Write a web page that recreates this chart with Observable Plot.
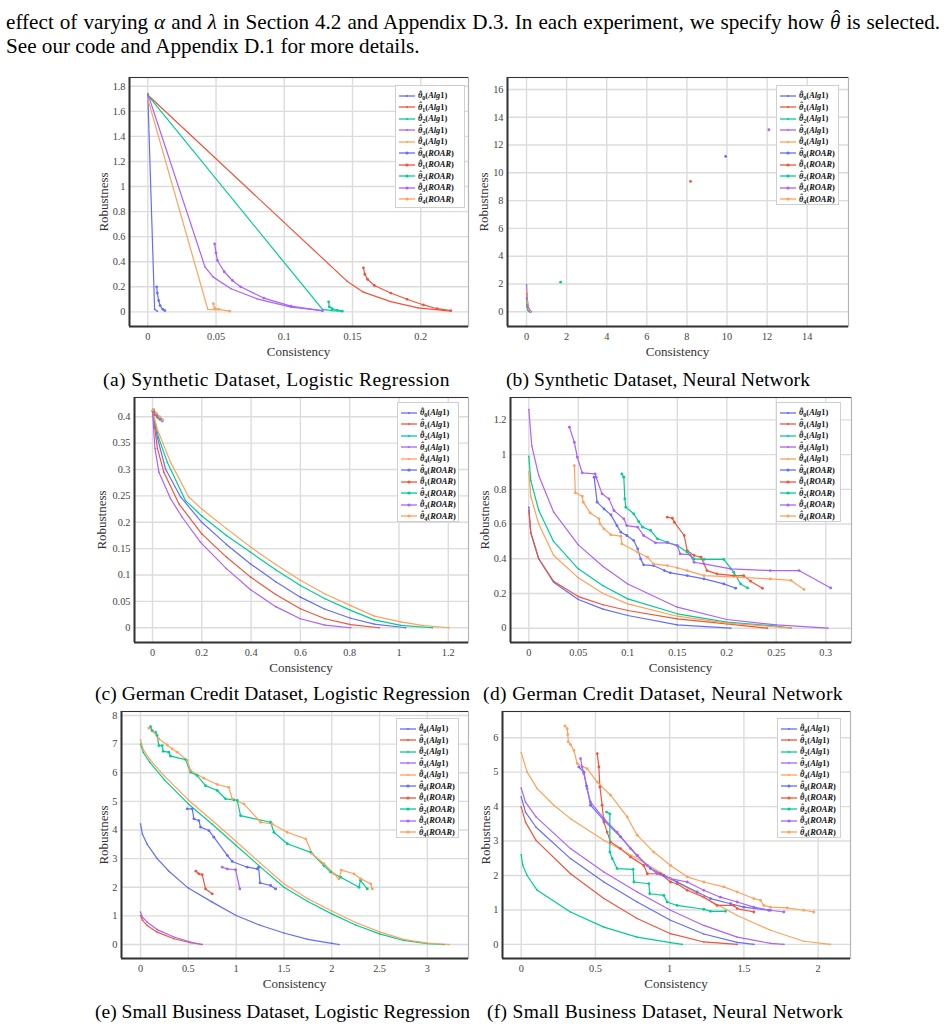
<!DOCTYPE html>
<html><head><meta charset="utf-8">
<script src="https://cdn.jsdelivr.net/npm/d3@7"></script>
<script src="https://cdn.jsdelivr.net/npm/@observablehq/plot@0.6"></script>
<style>
html,body{margin:0;padding:0;background:#fff;}
body{width:950px;height:1029px;position:relative;overflow:hidden;font-family:"Liberation Serif","Times New Roman",serif;color:#000;}
.abs{position:absolute;white-space:nowrap;line-height:1;}
.ttl{font-size:13px;color:#333;}
.legend{position:absolute;background:rgba(255,255,255,0.92);border:1px solid #cfcfcf;box-sizing:border-box;padding:4px 2px 0 3px;}
.lrow{height:11.5px;display:flex;align-items:center;font:bold 8.4px "Liberation Serif",serif;color:#111;white-space:nowrap;}
.lrow svg{margin-right:3px;flex:none;}
.lrow sub{font-size:6px;vertical-align:-2px;line-height:0;}
.hat{position:relative;display:inline-block;font-style:italic;}
.hat::after{content:"ˆ";position:absolute;left:0.14em;top:-0.2em;font-style:normal;}
</style></head><body>
<script>
// ---------------- data ----------------
const thetaIdx = [0, 1, 2, 3, 4];
const methods = ["Alg1", "ROAR"];
const palette = ["#636EFA", "#EF553B", "#00CC96", "#AB63FA", "#FFA15A"];

// (a) Synthetic Dataset, Logistic Regression
const aXTicks = [0, 0.05, 0.1, 0.15, 0.2];
const aYTicks = [0, 0.2, 0.4, 0.6, 0.8, 1, 1.2, 1.4, 1.6, 1.8];
const aAlg1 = [
  [[0,1.74],[0.005,0.02],[0.007,0.005]],
  [[0,1.73],[0.146,0.245],[0.158,0.157],[0.178,0.082],[0.198,0.032],[0.222,0.005]],
  [[0,1.73],[0.128,0.019],[0.135,0.01],[0.142,0.005]],
  [[0,1.74],[0.042,0.356],[0.048,0.277],[0.061,0.184],[0.080,0.104],[0.105,0.037],[0.127,0.011]],
  [[0,1.70],[0.044,0.019],[0.05,0.015]]
];
const aRoar = [
  [[0.0065,0.2],[0.007,0.15],[0.008,0.09],[0.009,0.05],[0.011,0.02],[0.0125,0.01]],
  [[0.158,0.351],[0.159,0.30],[0.161,0.26],[0.166,0.21],[0.178,0.15],[0.190,0.1],[0.202,0.055],[0.212,0.025],[0.222,0.01]],
  [[0.1325,0.08],[0.133,0.04],[0.135,0.025],[0.139,0.012],[0.1425,0.005]],
  [[0.049,0.543],[0.050,0.47],[0.051,0.41],[0.056,0.32],[0.062,0.25],[0.068,0.2],[0.085,0.11],[0.105,0.045],[0.128,0.008]],
  [[0.048,0.065],[0.049,0.03],[0.052,0.02],[0.06,0.005]]
];

// (b) Synthetic Dataset, Neural Network
const bXTicks = [0, 2, 4, 6, 8, 10, 12, 14];
const bYTicks = [0, 2, 4, 6, 8, 10, 12, 14, 16];
const bAlg1 = [
  [[0,1.0],[0.03,0.4],[0.08,0.1],[0.15,0.0]],
  [[0,1.3],[0.03,0.5],[0.1,0.1],[0.18,0.0]],
  [[0,0.9],[0.03,0.3],[0.1,0.05],[0.15,0.0]],
  [[0,1.95],[0.04,0.9],[0.1,0.3],[0.2,0.05],[0.25,0.0]],
  [[0,1.45],[0.04,0.6],[0.1,0.15],[0.2,0.0]]
];
const bRoar = [
  [[9.93,11.18]],
  [[8.18,9.38]],
  [[1.70,2.13]],
  [[12.09,13.1]],
  [[15.08,15.73]]
];

// (c) German Credit Dataset, Logistic Regression
const cXTicks = [0, 0.2, 0.4, 0.6, 0.8, 1, 1.2];
const cYTicks = [0, 0.05, 0.1, 0.15, 0.2, 0.25, 0.3, 0.35, 0.4];
const cAlg1 = [
  [[0,0.41],[0.02,0.36],[0.053,0.301],[0.114,0.248],[0.2,0.2],[0.3,0.158],[0.398,0.121],[0.5,0.087],[0.6,0.058],[0.7,0.035],[0.804,0.018],[0.9,0.007],[1.027,0]],
  [[0,0.41],[0.02,0.34],[0.046,0.295],[0.107,0.235],[0.2,0.178],[0.3,0.134],[0.398,0.096],[0.5,0.063],[0.6,0.036],[0.7,0.017],[0.804,0.006],[0.919,0]],
  [[0,0.41],[0.025,0.36],[0.06,0.314],[0.134,0.241],[0.2,0.212],[0.3,0.175],[0.398,0.143],[0.5,0.11],[0.6,0.08],[0.7,0.055],[0.804,0.033],[0.9,0.015],[1.007,0.0044],[1.135,0]],
  [[0,0.41],[0.01,0.34],[0.026,0.295],[0.073,0.245],[0.12,0.21],[0.195,0.162],[0.3,0.112],[0.398,0.072],[0.5,0.04],[0.6,0.017],[0.7,0.005],[0.804,0]],
  [[0,0.412],[0.019,0.377],[0.073,0.314],[0.147,0.248],[0.2,0.225],[0.3,0.188],[0.398,0.153],[0.5,0.12],[0.6,0.09],[0.7,0.064],[0.804,0.042],[0.9,0.022],[1.007,0.011],[1.1,0.004],[1.203,0]]
];
const cRoar = [
  [[0.003,0.412],[0.01,0.405],[0.02,0.4],[0.03,0.395]],
  [[0.003,0.41],[0.01,0.404],[0.02,0.399]],
  [[0.003,0.413],[0.012,0.406],[0.025,0.399],[0.035,0.395]],
  [[0.003,0.413],[0.015,0.405],[0.03,0.397],[0.04,0.392]],
  [[0.003,0.414],[0.015,0.407],[0.03,0.4],[0.042,0.394]]
];

// (d) German Credit Dataset, Neural Network
const dXTicks = [0, 0.05, 0.1, 0.15, 0.2, 0.25, 0.3];
const dYTicks = [0, 0.2, 0.4, 0.6, 0.8, 1, 1.2];
const dAlg1 = [
  [[0,0.697],[0.002,0.55],[0.01,0.4],[0.025,0.265],[0.05,0.165],[0.075,0.11],[0.1,0.073],[0.15,0.019],[0.204,0]],
  [[0,0.678],[0.002,0.55],[0.01,0.4],[0.025,0.27],[0.05,0.182],[0.075,0.135],[0.1,0.102],[0.15,0.054],[0.2,0.025],[0.241,0]],
  [[0,0.99],[0.002,0.85],[0.01,0.68],[0.025,0.5],[0.05,0.342],[0.075,0.245],[0.1,0.169],[0.15,0.083],[0.2,0.035],[0.25,0.012],[0.265,0]],
  [[0,1.26],[0.003,1.05],[0.01,0.88],[0.025,0.67],[0.05,0.48],[0.075,0.355],[0.1,0.255],[0.15,0.121],[0.2,0.05],[0.25,0.019],[0.302,0]],
  [[0,0.9],[0.002,0.76],[0.01,0.6],[0.025,0.42],[0.05,0.29],[0.075,0.2],[0.1,0.14],[0.15,0.069],[0.2,0.029],[0.25,0.008],[0.265,0]]
];
const dRoar = [
  [[0.066,0.87],[0.069,0.726],[0.076,0.687],[0.083,0.653],[0.089,0.591],[0.093,0.553],[0.099,0.534],[0.106,0.505],[0.11,0.457],[0.113,0.399],[0.116,0.365],[0.126,0.361],[0.137,0.332],[0.143,0.319],[0.16,0.303],[0.177,0.284],[0.197,0.255],[0.209,0.23]],
  [[0.14,0.639],[0.145,0.634],[0.147,0.611],[0.157,0.534],[0.16,0.447],[0.167,0.419],[0.174,0.409],[0.18,0.332],[0.19,0.313],[0.207,0.303],[0.217,0.303],[0.224,0.271],[0.236,0.23]],
  [[0.094,0.889],[0.096,0.87],[0.097,0.745],[0.098,0.697],[0.106,0.659],[0.111,0.614],[0.115,0.582],[0.123,0.563],[0.13,0.515],[0.14,0.495],[0.15,0.476],[0.16,0.438],[0.167,0.399],[0.177,0.396],[0.197,0.396],[0.207,0.323],[0.214,0.255],[0.221,0.232]],
  [[0.041,1.158],[0.046,1.071],[0.049,0.985],[0.054,0.895],[0.067,0.889],[0.068,0.87],[0.074,0.774],[0.081,0.745],[0.086,0.678],[0.096,0.63],[0.099,0.591],[0.11,0.582],[0.116,0.534],[0.128,0.492],[0.14,0.492],[0.15,0.476],[0.153,0.428],[0.163,0.422],[0.167,0.38],[0.177,0.371],[0.204,0.342],[0.244,0.332],[0.273,0.332],[0.305,0.232]],
  [[0.046,0.937],[0.047,0.78],[0.054,0.76],[0.055,0.726],[0.062,0.664],[0.071,0.63],[0.072,0.601],[0.076,0.572],[0.083,0.538],[0.093,0.53],[0.094,0.486],[0.11,0.438],[0.12,0.409],[0.126,0.371],[0.14,0.361],[0.15,0.348],[0.16,0.332],[0.177,0.303],[0.211,0.294],[0.244,0.284],[0.265,0.275],[0.278,0.223]]
];

// (e) Small Business Dataset, Logistic Regression
const eXTicks = [0, 0.5, 1, 1.5, 2, 2.5, 3];
const eYTicks = [0, 1, 2, 3, 4, 5, 6, 7, 8];
const eAlg1 = [
  [[0,4.21],[0.02,3.85],[0.07,3.5],[0.174,3.0],[0.3,2.55],[0.5,1.97],[0.75,1.48],[1.0,1.01],[1.25,0.67],[1.5,0.4],[1.75,0.18],[2.0,0.04],[2.075,0]],
  [[0,1.01],[0.02,0.85],[0.07,0.66],[0.174,0.43],[0.349,0.2],[0.523,0.06],[0.645,0]],
  [[0,7.0],[0.03,6.7],[0.1,6.35],[0.25,5.75],[0.5,4.91],[0.75,4.2],[1.0,3.46],[1.25,2.72],[1.5,2.0],[1.75,1.5],[2.0,1.07],[2.25,0.68],[2.5,0.37],[2.75,0.14],[3.0,0.03],[3.17,0]],
  [[0,1.13],[0.02,0.95],[0.07,0.78],[0.174,0.52],[0.349,0.26],[0.523,0.08],[0.645,0]],
  [[0,7.15],[0.03,6.8],[0.1,6.45],[0.25,5.88],[0.5,5.05],[0.75,4.33],[1.0,3.6],[1.25,2.85],[1.5,2.12],[1.75,1.6],[2.0,1.17],[2.25,0.77],[2.5,0.44],[2.75,0.18],[3.0,0.05],[3.226,0]]
];
const eRoar = [
  [[0.488,4.74],[0.541,4.74],[0.558,4.39],[0.61,4.33],[0.628,4.1],[0.715,3.98],[0.767,3.75],[0.907,3.11],[0.959,2.9],[1.116,2.7],[1.221,2.64],[1.235,2.7],[1.25,2.15],[1.36,2.06],[1.413,1.94]],
  [[0.579,2.56],[0.61,2.47],[0.645,2.44],[0.68,1.94],[0.75,1.77]],
  [[0.105,7.61],[0.122,7.47],[0.157,7.42],[0.174,7.3],[0.192,6.95],[0.227,6.95],[0.237,6.75],[0.296,6.72],[0.314,6.58],[0.471,6.46],[0.523,6.02],[0.593,5.9],[0.68,5.55],[0.802,5.38],[0.889,5.09],[0.977,5.05],[1.012,5.03],[1.046,4.5],[1.36,4.27],[1.395,3.92],[1.535,3.52],[1.779,3.22],[1.918,2.76],[1.988,2.53],[2.093,2.35],[2.285,2.0],[2.3,2.24],[2.372,1.94]],
  [[0.855,2.7],[0.907,2.64],[0.994,2.61],[1.039,1.94]],
  [[0.087,7.56],[0.14,7.42],[0.192,7.18],[0.279,6.97],[0.331,6.83],[0.384,6.72],[0.488,6.43],[0.523,6.08],[0.663,5.81],[0.802,5.59],[0.924,5.49],[0.959,5.09],[1.081,4.91],[1.256,4.27],[1.378,4.21],[1.535,3.92],[1.727,3.69],[1.796,3.17],[1.918,2.82],[2.023,2.47],[2.075,2.29],[2.1,2.6],[2.232,2.47],[2.3,2.3],[2.407,2.12],[2.424,1.94]]
];

// (f) Small Business Dataset, Neural Network
const fXTicks = [0, 0.5, 1, 1.5, 2];
const fYTicks = [0, 1, 2, 3, 4, 5, 6];
const fAlg1 = [
  [[0,4.28],[0.029,3.84],[0.1,3.4],[0.332,2.49],[0.557,1.81],[0.781,1.23],[1.006,0.7],[1.23,0.3],[1.455,0.06],[1.567,0]],
  [[0,3.99],[0.029,3.55],[0.1,3.02],[0.332,2.05],[0.557,1.33],[0.781,0.75],[1.006,0.31],[1.23,0.07],[1.455,0]],
  [[0,2.6],[0.01,2.3],[0.04,2.0],[0.108,1.57],[0.332,0.94],[0.557,0.5],[0.781,0.21],[1.006,0.05],[1.084,0]],
  [[0,4.54],[0.029,4.13],[0.1,3.7],[0.332,2.78],[0.557,2.1],[0.781,1.52],[1.006,0.99],[1.23,0.55],[1.455,0.21],[1.679,0.03],[1.769,0]],
  [[0,5.57],[0.04,5.0],[0.108,4.52],[0.22,4.04],[0.332,3.65],[0.557,3.02],[0.781,2.49],[1.006,1.91],[1.23,1.37],[1.455,0.84],[1.679,0.41],[1.903,0.09],[2.083,0]]
];
const fRoar = [
  [[0.388,5.15],[0.422,5.0],[0.44,4.6],[0.467,4.04],[0.557,3.6],[0.669,3.12],[0.781,2.58],[0.871,2.2],[0.961,2.0],[1.05,1.81],[1.185,1.52],[1.275,1.33],[1.41,1.18],[1.5,1.08],[1.668,0.99]],
  [[0.512,5.54],[0.523,5.15],[0.53,4.57],[0.545,4.04],[0.557,3.55],[0.579,3.26],[0.602,2.97],[0.669,2.78],[0.736,2.54],[0.826,2.29],[0.849,2.05],[0.938,2.05],[1.006,1.81],[1.05,1.76],[1.118,1.57],[1.23,1.37],[1.32,1.13],[1.432,1.13],[1.455,1.04],[1.567,0.94]],
  [[0.575,3.84],[0.597,3.79],[0.597,2.68],[0.613,2.49],[0.646,2.2],[0.754,2.18],[0.759,1.81],[0.86,1.76],[0.866,1.47],[0.961,1.42],[0.983,1.23],[1.05,1.13],[1.23,1.02],[1.275,0.96],[1.376,0.96]],
  [[0.4,5.39],[0.41,5.15],[0.422,4.96],[0.444,4.52],[0.467,4.13],[0.557,3.65],[0.646,3.26],[0.736,2.78],[0.781,2.58],[0.849,2.29],[0.916,2.05],[1.006,1.91],[1.118,1.81],[1.23,1.57],[1.342,1.37],[1.455,1.23],[1.567,1.08],[1.679,0.99],[1.769,0.94]],
  [[0.294,6.34],[0.31,6.26],[0.314,6.09],[0.317,5.88],[0.332,5.8],[0.355,5.63],[0.377,5.25],[0.444,5.1],[0.512,4.71],[0.602,4.33],[0.714,3.7],[0.781,3.17],[0.893,2.68],[1.006,2.29],[1.118,1.96],[1.23,1.81],[1.365,1.67],[1.455,1.52],[1.567,1.33],[1.612,1.28],[1.634,1.13],[1.679,1.08],[1.791,1.06],[1.903,0.99],[1.971,0.94]]
];

const captions = [
  "(a) Synthetic Dataset, Logistic Regression",
  "(b) Synthetic Dataset, Neural Network",
  "(c) German Credit Dataset, Logistic Regression",
  "(d) German Credit Dataset, Neural Network",
  "(e) Small Business Dataset, Logistic Regression",
  "(f) Small Business Dataset, Neural Network"
];
const xTitle = "Consistency";
const yTitle = "Robustness";

// ---------------- layout (positions / domains) ----------------
const panels = [
  {alg:aAlg1, roar:aRoar, xt:aXTicks, yt:aYTicks, xd:[-0.0134,0.235], yd:[-0.117,1.87], f:[129,77,468,326], ylabX:103, cap:[276.5,380,347], leg:{w:70,h:123,r:3,t:8}},
  {alg:bAlg1, roar:bRoar, xt:bXTicks, yt:bYTicks, xd:[-0.95,16.06], yd:[-1.06,16.86], f:[507,77,848,326], ylabX:483, cap:[658,380,304], leg:{w:63,h:120,r:9,t:8}},
  {alg:cAlg1, roar:cRoar, xt:cXTicks, yt:cYTicks, xd:[-0.073,1.282], yd:[-0.028,0.4366], f:[134,397,468,642], ylabX:101, cap:[282.5,694,375], leg:{w:62,h:120,r:9,t:5}},
  {alg:dAlg1, roar:dRoar, xt:dXTicks, yt:dYTicks, xd:[-0.0185,0.326], yd:[-0.0824,1.329], f:[510,397,851,642], ylabX:484, cap:[663,694,360], leg:{w:65,h:120,r:10,t:5}},
  {alg:eAlg1, roar:eRoar, xt:eXTicks, yt:eYTicks, xd:[-0.199,3.43], yd:[-0.49,8.14], f:[121,711,468,958], ylabX:103, cap:[282.5,1012,375], leg:{w:63,h:120,r:9,t:7}},
  {alg:fAlg1, roar:fRoar, xt:fXTicks, yt:fYTicks, xd:[-0.126,2.218], yd:[-0.41,6.76], f:[502,711,850,958], ylabX:485, cap:[665,1012,356], leg:{w:64,h:120,r:9,t:7}}
];

const body = document.body;
function addDiv(cls, html, style) {
  const d = document.createElement("div");
  d.className = cls;
  d.innerHTML = html;
  Object.assign(d.style, style);
  body.appendChild(d);
  return d;
}
const thetaHat = '<span class="hat">θ</span>';

// ---------------- top paragraph ----------------
const line1 = addDiv("abs", `effect of varying <i>α</i> and <i>λ</i> in Section 4.2 and Appendix D.3. In each experiment, we specify how ${thetaHat} is selected.`, {left:"6px", top:"12px", fontSize:"18px"});
const line2 = addDiv("abs", 'See our code and Appendix D.1 for more details.', {left:"6px", top:"36px", fontSize:"18px"});
{
  const w2 = line2.getBoundingClientRect().width;
  const fs = 18 * 414 / w2;
  line1.style.fontSize = fs + "px";
  line2.style.fontSize = fs + "px";
  const w1 = line1.getBoundingClientRect().width;
  const nSpaces = line1.textContent.split(" ").length - 1;
  line1.style.wordSpacing = ((934 - w1) / nSpaces) + "px";
}

// ---------------- panels ----------------
function legendLabel(k, m) {
  const meth = m === "Alg1" ? "<i>Alg</i>1" : "<i>ROAR</i>";
  return `${thetaHat}<sub>${k}</sub>(${meth})`;
}

const capEls = [];
panels.forEach((p, pi) => {
  const rows = [];
  methods.forEach((m, mi) => {
    const set = mi === 0 ? p.alg : p.roar;
    set.forEach((pts, k) => pts.forEach(([x, y]) => rows.push({x, y, k, m, s: m + k})));
  });
  const [fl, ft, fr, fb] = p.f;
  const ML = 50, MR = 10, MT = 5, MB = 25;
  const chart = Plot.plot({
    width: fr - fl + ML + MR,
    height: fb - ft + MT + MB,
    marginLeft: ML, marginRight: MR, marginTop: MT, marginBottom: MB,
    style: {fontFamily: "'Liberation Serif', serif", fontSize: "10.3px", color: "#444", background: "transparent", overflow: "visible"},
    x: {domain: p.xd, ticks: p.xt, tickSize: 0, tickPadding: 6, label: null, tickFormat: d => String(d)},
    y: {domain: p.yd, ticks: p.yt, tickSize: 0, tickPadding: 4, label: null, tickFormat: d => String(d)},
    color: {type: "ordinal", domain: thetaIdx, range: palette},
    marks: [
      Plot.ruleX(p.xt, {stroke: "#dcdcdc", strokeWidth: 1.4}),
      Plot.ruleY(p.yt, {stroke: "#dcdcdc", strokeWidth: 1.4}),
      Plot.frame({stroke: "#b5b5b5", strokeWidth: 1.2}),
      Plot.ruleX([p.xd[0]], {stroke: "#333", strokeWidth: 2}),
      Plot.ruleY([p.yd[0]], {stroke: "#333", strokeWidth: 2}),
      Plot.ruleY([p.yd[1]], {stroke: "#333", strokeWidth: 1}),
      Plot.line(rows, {x: "x", y: "y", z: "s", stroke: "k", strokeWidth: 1.2}),
      Plot.dot(rows.filter(r => r.m === "ROAR"), {x: "x", y: "y", fill: "k", r: 1.4}),
      Plot.dot(rows.filter(r => r.m === "Alg1"), {x: "x", y: "y", fill: "k", r: 0.8})
    ]
  });
  const holder = document.createElement("div");
  holder.style.position = "absolute";
  holder.style.left = (fl - ML) + "px";
  holder.style.top = (ft - MT) + "px";
  holder.appendChild(chart);
  body.appendChild(holder);

  // axis titles
  addDiv("abs ttl", yTitle, {left: p.ylabX + "px", top: ((ft + fb) / 2) + "px", transform: "translate(-50%,-50%) rotate(-90deg)"});
  addDiv("abs ttl", xTitle, {left: ((fl + fr) / 2) + "px", top: (fb + 25) + "px", transform: "translate(-50%,-50%)"});

  // legend
  const lg = document.createElement("div");
  lg.className = "legend";
  Object.assign(lg.style, {left: (fr - p.leg.r - p.leg.w) + "px", top: (ft + p.leg.t) + "px", width: p.leg.w + "px", height: p.leg.h + "px"});
  methods.forEach(m => thetaIdx.forEach(k => {
    const row = document.createElement("div");
    row.className = "lrow";
    const c = palette[k];
    row.innerHTML = `<svg width="16" height="8"><line x1="0" y1="4" x2="16" y2="4" stroke="${c}" stroke-width="1.3"/><circle cx="8" cy="4" r="${m === "ROAR" ? 1.6 : 1}" fill="${c}"/></svg><span>${legendLabel(k, m)}</span>`;
    lg.appendChild(row);
  }));
  body.appendChild(lg);

  // caption
  capEls.push(addDiv("abs", captions[pi], {left: p.cap[0] + "px", top: p.cap[1] + "px", fontSize: "17px", transform: "translate(-50%,-50%)"}));
});

// caption font: fit to caption (e), then letter-spacing per caption to reference widths
{
  const w = capEls[4].getBoundingClientRect().width;
  const fs = 17 * panels[4].cap[2] / w;
  capEls.forEach(el => el.style.fontSize = fs + "px");
  capEls.forEach((el, i) => {
    const wi = el.getBoundingClientRect().width;
    const n = el.textContent.length;
    el.style.letterSpacing = ((panels[i].cap[2] - wi) / n) + "px";
  });
}
</script>
</body></html>
